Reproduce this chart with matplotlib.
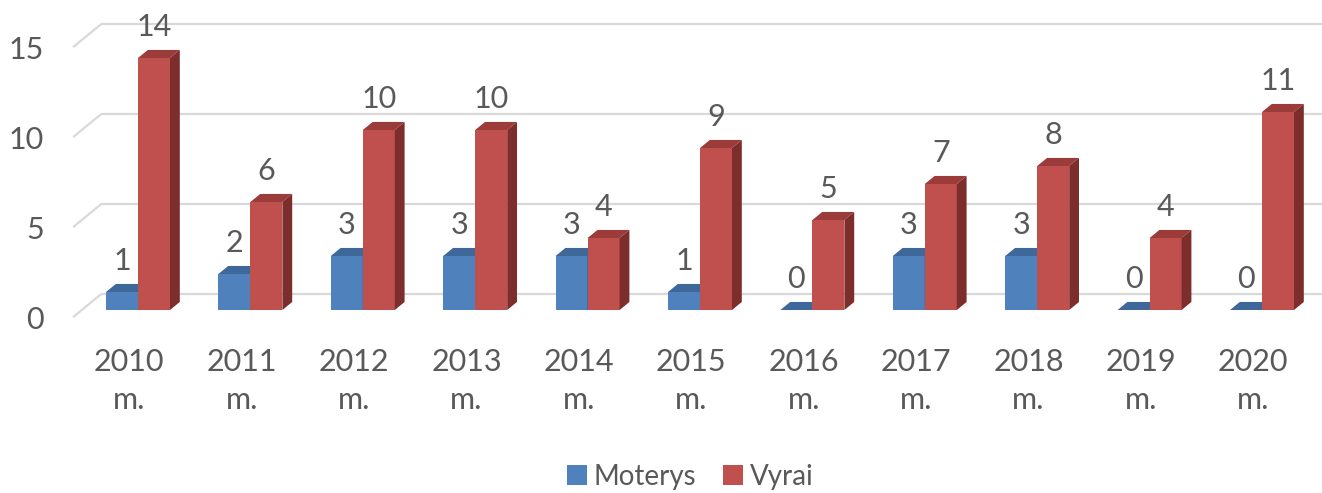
import matplotlib
matplotlib.use('Agg')
import matplotlib.pyplot as plt
from matplotlib.patches import Polygon, Rectangle

# ---------------- data ----------------
years = ['2010', '2011', '2012', '2013', '2014', '2015', '2016', '2017', '2018', '2019', '2020']
cat_labels = [y + '\nm.' for y in years]
series_names = ['Moterys', 'Vyrai']
moterys = [1, 2, 3, 3, 3, 1, 0, 3, 3, 0, 0]
vyrai = [14, 6, 10, 10, 4, 9, 5, 7, 8, 4, 11]
yticks = [0, 5, 10, 15]

# ---------------- style ----------------
W, H, DPI = 1322, 493, 100
plt.rcParams['font.family'] = ['Lato', 'DejaVu Sans']
TXT = '#595959'
GRID = '#D9D9D9'
front_cols = ['#4F81BD', '#C0504D']
top_cols = ['#3D6899', '#9C3C3A']
side_cols = ['#2F5078', '#7D2D2B']

fig = plt.figure(figsize=(W / DPI, H / DPI), dpi=DPI)

# plot plane (front face of bars) in pixel geometry
x_left_px, x_right_px = 81.8, 1318.2      # index -0.5 .. 10.5
y0_px, y15_px = H - 310, H - 40           # value 0 .. 15 (from bottom)
ax = fig.add_axes([x_left_px / W, y0_px / H, (x_right_px - x_left_px) / W, (y15_px - y0_px) / H])
ax.set_xlim(-0.5, len(years) - 0.5)
ax.set_ylim(0, 15)
ax.axis('off')

sx = (x_right_px - x_left_px) / len(years)   # px per x unit
sy = (y15_px - y0_px) / 15.0                 # px per y unit

# depth vector (front floor edge -> back wall), pixels
Dx, Dy = 28.0, 23.0
def dep(frac):
    return frac * Dx / sx, frac * Dy / sy

f_front, f_bar0, f_bar1, f_back = 0.0, 0.31, 0.66, 1.0
def rel(frac):
    return dep(frac - f_bar0)

# ---------------- back wall gridlines + side diagonals ----------------
bx, by = rel(f_back)
fx, fy = rel(f_front)
for v in yticks:
    ax.plot([-0.5 + bx, len(years) + 1], [v + by, v + by], color=GRID, lw=1.6,
            solid_capstyle='butt', clip_on=False, zorder=1)
    ax.plot([-0.5 + fx, -0.5 + bx], [v + fy, v + by], color=GRID, lw=1.6,
            solid_capstyle='butt', clip_on=False, zorder=1)
    ax.annotate(str(v), (-0.5 + fx, v + fy), xytext=(-29, 0), textcoords='offset pixels',
                ha='right', va='center_baseline', fontsize=22, color=TXT, annotation_clip=False)

# ---------------- 3D bars ----------------
bw = 32.0 / sx
ddx, ddy = dep(f_bar1 - f_bar0)
z = 3
for i in range(len(years)):
    for s, vals in enumerate([moterys, vyrai]):
        v = vals[i]
        x0 = i - bw + s * bw
        ax.bar(x0, v, width=bw, align='edge', color=front_cols[s], zorder=z, linewidth=0)
        top = [(x0, v), (x0 + bw, v), (x0 + bw + ddx, v + ddy), (x0 + ddx, v + ddy)]
        ax.add_patch(Polygon(top, closed=True, facecolor=top_cols[s], edgecolor='none',
                             zorder=z, clip_on=False))
        side = [(x0 + bw, 0), (x0 + bw, v), (x0 + bw + ddx, v + ddy), (x0 + bw + ddx, ddy)]
        ax.add_patch(Polygon(side, closed=True, facecolor=side_cols[s], edgecolor='none',
                             zorder=z, clip_on=False))
        ax.annotate(str(v), (x0 + bw / 2, v), xytext=(0, 34), textcoords='offset pixels',
                    ha='center', va='center_baseline', fontsize=22, color=TXT,
                    annotation_clip=False, zorder=10)
        z += 1
    # category label at floor front
    ax.annotate(cat_labels[i], (i + fx, fy), xytext=(0, -31), textcoords='offset pixels',
                ha='center', va='top', fontsize=22, color=TXT, linespacing=1.45,
                annotation_clip=False)

# ---------------- legend ----------------
handles = [Rectangle((0, 0), 1, 1, facecolor=c, edgecolor='none') for c in front_cols]
leg = fig.legend(handles, series_names, loc='center', bbox_to_anchor=(690 / W, 16 / H),
                 ncol=2, frameon=False, fontsize=20, handlelength=0.72, handleheight=0.72,
                 handletextpad=0.25, columnspacing=0.95, borderpad=0, borderaxespad=0)
for t in leg.get_texts():
    t.set_color(TXT)

fig.savefig('out.png', dpi=DPI, facecolor='white')
